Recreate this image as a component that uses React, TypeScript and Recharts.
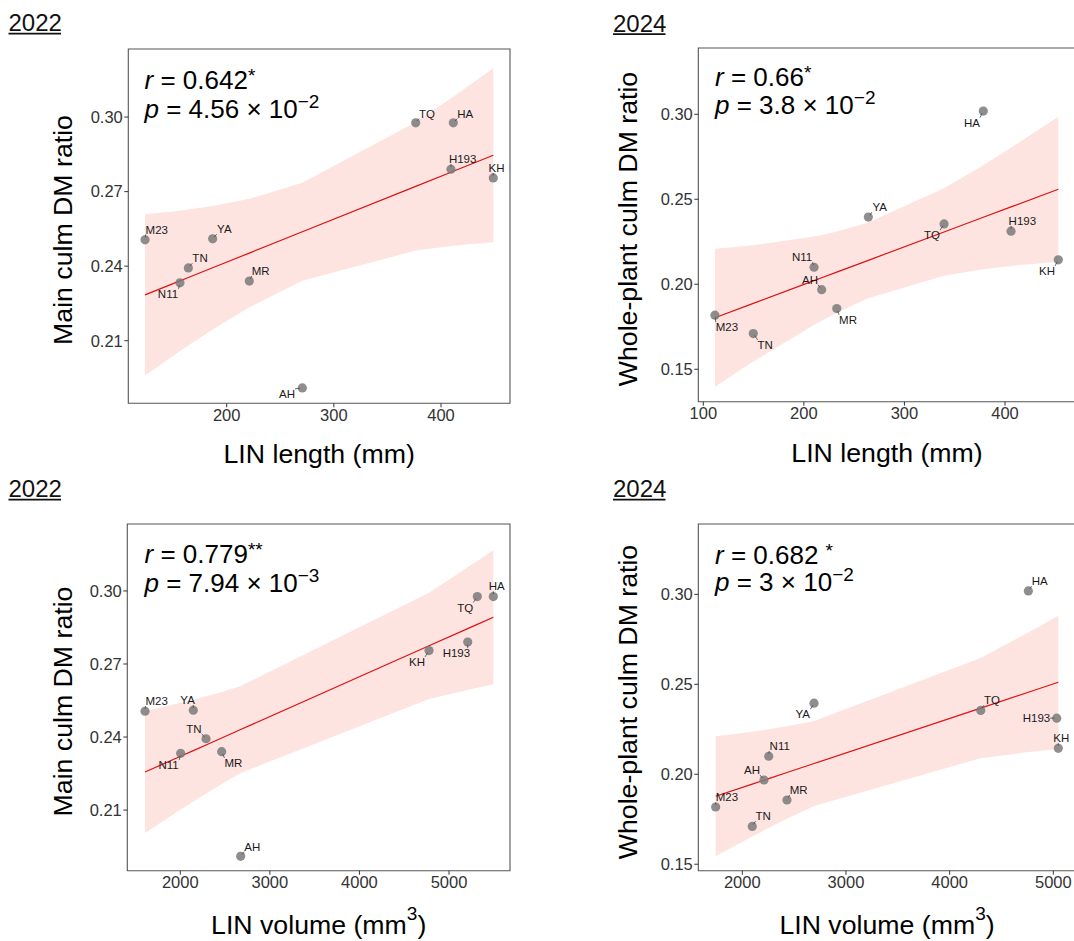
import React from "react";
import { ComposedChart, XAxis, YAxis, Area, Line, Scatter, ReferenceArea } from "recharts";

const FONT = '"Liberation Sans", Arial, Helvetica, sans-serif';

// ---------------- data ----------------
const cultivars = ["M23", "YA", "TN", "N11", "MR", "AH", "TQ", "HA", "H193", "KH"];

const linLength2022 = [123.8, 186.9, 164.2, 156.4, 221.1, 270.6, 376.4, 411.5, 409.3, 448.8];
const mainCulmRatio2022 = [0.2506, 0.251, 0.2393, 0.2333, 0.234, 0.191, 0.2977, 0.2977, 0.279, 0.2755];
const linVolume2022 = [1606, 2145, 2287, 2004, 2462, 2674, 5316, 5495, 5209, 4777];

const linLength2024 = [111.6, 264.1, 149.7, 210.1, 232.7, 217.7, 339.4, 378.4, 406.0, 453.0];
const wholePlantRatio2024 = [0.1818, 0.2395, 0.171, 0.21, 0.1857, 0.1968, 0.2355, 0.3019, 0.2312, 0.2144];
const linVolume2024 = [1743, 2692, 2096, 2255, 2431, 2209, 4300, 4759, 5033, 5048];

const xTicksLength2022 = [200, 300, 400];
const xTicksLength2024 = [100, 200, 300, 400];
const xTicksVolume = [2000, 3000, 4000, 5000];
const yTicksMain = [0.21, 0.24, 0.27, 0.3];
const yTicksWhole = [0.15, 0.2, 0.25, 0.3];

const yearLabels = ["2022", "2024", "2022", "2024"];
const rValues = ["0.642", "0.66", "0.779", "0.682"];
const rStars = ["*", "*", "**", "*"];
const pMantissas = ["4.56", "3.8", "7.94", "3"];
const pExponents = ["\u22122", "\u22122", "\u22123", "\u22122"];
const xTitleMain = ["LIN length (mm)", "LIN length (mm)", "LIN volume (mm", "LIN volume (mm"];
const xTitleSup = ["", "", "3", "3"];
const xTitleTail = ["", "", ")", ")"];
const yTitles = ["Main culm DM ratio", "Whole-plant culm DM ratio", "Main culm DM ratio", "Whole-plant culm DM ratio"];

// t quantile (0.975, df = 8) for the 95% confidence band of the fitted line
const T975_DF8 = 2.306;

function fitRows(xs: number[], ys: number[]) {
  const n = xs.length;
  const xbar = xs.reduce((a, b) => a + b, 0) / n;
  const ybar = ys.reduce((a, b) => a + b, 0) / n;
  let sxx = 0;
  let sxy = 0;
  xs.forEach((x, i) => {
    sxx += (x - xbar) * (x - xbar);
    sxy += (x - xbar) * (ys[i] - ybar);
  });
  const b = sxy / sxx;
  const a = ybar - b * xbar;
  let sse = 0;
  xs.forEach((x, i) => {
    const e = ys[i] - (a + b * x);
    sse += e * e;
  });
  const s = Math.sqrt(sse / (n - 2));
  return xs
    .map((x, i) => {
      const fit = a + b * x;
      const h = T975_DF8 * s * Math.sqrt(1 / n + ((x - xbar) * (x - xbar)) / sxx);
      return { x, y: ys[i], name: cultivars[i], fit, band: [fit - h, fit + h] };
    })
    .sort((p, q) => p.x - q.x);
}

// ---------------- layout ----------------
type Layout = {
  left: number; top: number; w: number; h: number;
  pl: number; pt: number; pr: number; pb: number;
  xDom: [number, number]; yDom: [number, number];
  year: [number, number];
  stats: [number, number, number, number];
  xTitle: [number, number];
  yTitle: [number, number];
  labels: Record<string, [number, number]>;
};

const LAYOUT: Layout[] = [
  {
    left: 0, top: 0, w: 540, h: 470,
    pl: 128.3, pt: 49, pr: 510, pb: 403.3,
    xDom: [108.17, 464.4], yDom: [0.1848, 0.3274],
    year: [8.5, 31], stats: [144.5, 89.3, 117.7, 0], xTitle: [319.2, 462.5], yTitle: [71.7, 230],
    labels: {
      M23: [11.7, -10.3], YA: [11.7, -9.7], TN: [11.7, -9.7], N11: [-12, 11], MR: [11.3, -10],
      AH: [-15.3, 6], TQ: [11.3, -9.3], HA: [12, -9.3], H193: [11.7, -10.3], KH: [3.3, -10],
    },
  },
  {
    left: 540, top: 0, w: 540, h: 470,
    pl: 698.3, pt: 48, pr: 1075.4, pb: 401.7,
    xDom: [95.03, 470], yDom: [0.1309, 0.339],
    year: [613, 31.5], stats: [715, 86, 114, 0], xTitle: [887, 461.5], yTitle: [636.5, 229],
    labels: {
      HA: [-11.3, 11.7], YA: [11.3, -10], TQ: [-12, 11.3], H193: [11.3, -10.3], KH: [-11.3, 11.3],
      N11: [-12, -10], AH: [-11.7, -10], MR: [11.3, 11.3], M23: [12, 12], TN: [12, 11.3],
    },
  },
  {
    left: 0, top: 470, w: 540, h: 470,
    pl: 127.3, pt: 524, pr: 510, pb: 870.7,
    xDom: [1408.3, 5681], yDom: [0.1851, 0.3275],
    year: [8.5, 497], stats: [144.5, 563.2, 592, 0], xTitle: [318.7, 934], yTitle: [71.7, 701.5],
    labels: {
      M23: [11.7, -10.3], YA: [-5.7, -10.3], TN: [-12, -10], N11: [-12, 11.7], MR: [11.7, 11.3],
      AH: [11.7, -9.7], KH: [-12, 11.3], H193: [-11.3, 11], TQ: [-12, 11], HA: [3.3, -10.3],
    },
  },
  {
    left: 540, top: 470, w: 540, h: 470,
    pl: 698.3, pt: 524, pr: 1075.4, pb: 870.7,
    xDom: [1575.6, 5213], yDom: [0.1464, 0.3391],
    year: [613, 497], stats: [715, 563.5, 591, 7], xTitle: [887, 934], yTitle: [636.5, 702],
    labels: {
      HA: [11.3, -9.7], YA: [-11.3, 11], TQ: [11.3, -10.3], H193: [-20.3, 0], KH: [3, -10.3],
      N11: [11, -10.3], AH: [-12, -10], MR: [11.7, -10], M23: [11.3, -9.7], TN: [11, -10.3],
    },
  },
];

const PANEL_DATA = [
  { rows: fitRows(linLength2022, mainCulmRatio2022), xTicks: xTicksLength2022, yTicks: yTicksMain },
  { rows: fitRows(linLength2024, wholePlantRatio2024), xTicks: xTicksLength2024, yTicks: yTicksWhole },
  { rows: fitRows(linVolume2022, mainCulmRatio2022), xTicks: xTicksVolume, yTicks: yTicksMain },
  { rows: fitRows(linVolume2024, wholePlantRatio2024), xTicks: xTicksVolume, yTicks: yTicksWhole },
];

// ---------------- label (repel-like) shape ----------------
const CHAR_W: Record<string, number> = {
  M: 0.833, Y: 0.667, A: 0.667, T: 0.611, N: 0.722, R: 0.722, H: 0.722, Q: 0.778, K: 0.667,
};
const textW = (s: string, fs: number) =>
  s.split("").reduce((a, c) => a + (CHAR_W[c] ?? 0.556), 0) * fs;

const LABEL_FS = 11.5;

const makeShape = (labels: Record<string, [number, number]>) => (props: any) => {
  const { cx, cy, payload } = props;
  if (cx == null || cy == null) return <g />;
  const name: string = payload?.name ?? "";
  const off = labels[name] ?? [10, -10];
  const lx = cx + off[0];
  const ly = cy + off[1];
  const w = textW(name, LABEL_FS) - 1;
  const bx = Math.min(Math.max(cx, lx - w / 2 - 0.5), lx + w / 2 + 0.5);
  const by = Math.min(Math.max(cy, ly - 5), ly + 5);
  const vx = bx - cx;
  const vy = by - cy;
  const d = Math.hypot(vx, vy);
  const sx = d > 0 ? cx + (vx / d) * 2.5 : cx;
  const sy = d > 0 ? cy + (vy / d) * 2.5 : cy;
  return (
    <g>
      <circle cx={cx} cy={cy} r={4.6} fill="#7a7a7a" fillOpacity={0.85} />
      {d > 3 && <line x1={sx} y1={sy} x2={bx} y2={by} stroke="#444" strokeWidth={0.8} />}
      <text x={lx} y={ly + 4.1} textAnchor="middle" fontSize={LABEL_FS} fontFamily={FONT} fill="#1a1a1a">
        {name}
      </text>
    </g>
  );
};

// ---------------- panel ----------------
function Panel({ idx }: { idx: number }) {
  const L = LAYOUT[idx];
  const D = PANEL_DATA[idx];
  const tickStyle = { fill: "#333", fontSize: 16.5, fontFamily: FONT };
  return (
    <div style={{ position: "absolute", left: L.left, top: L.top, width: L.w, height: L.h }}>
      <ComposedChart
        width={L.w}
        height={L.h}
        data={D.rows}
        margin={{ top: L.pt - L.top, right: L.left + L.w - L.pr, bottom: 0, left: 0 }}
      >
        <XAxis
          type="number"
          dataKey="x"
          domain={L.xDom}
          ticks={D.xTicks}
          allowDataOverflow
          interval={0}
          height={L.top + L.h - L.pb}
          tickSize={4}
          tickMargin={2}
          axisLine={false}
          tickLine={{ stroke: "#333", strokeWidth: 1 }}
          tick={tickStyle}
        />
        <YAxis
          type="number"
          domain={L.yDom}
          ticks={D.yTicks}
          allowDataOverflow
          interval={0}
          width={L.pl - L.left}
          tickSize={4}
          tickMargin={1.5}
          axisLine={false}
          tickLine={{ stroke: "#333", strokeWidth: 1 }}
          tick={tickStyle}
          tickFormatter={(v: number) => v.toFixed(2)}
        />
        <Area
          type="linear"
          dataKey="band"
          stroke="none"
          fill="#fde4e1"
          fillOpacity={1}
          dot={false}
          activeDot={false}
          isAnimationActive={false}
        />
        <Line
          type="linear"
          dataKey="fit"
          stroke="#e01010"
          strokeWidth={1.2}
          dot={false}
          activeDot={false}
          isAnimationActive={false}
        />
        <ReferenceArea
          x1={L.xDom[0]}
          x2={L.xDom[1]}
          y1={L.yDom[0]}
          y2={L.yDom[1]}
          fill="none"
          stroke="#555"
          strokeWidth={1.1}
          ifOverflow="visible"
        />
        <Scatter dataKey="y" shape={makeShape(L.labels)} isAnimationActive={false} />
      </ComposedChart>
    </div>
  );
}

function Overlay() {
  return (
    <svg
      width={1074}
      height={941}
      style={{ position: "absolute", left: 0, top: 0, pointerEvents: "none" }}
      fontFamily={FONT}
    >
      {LAYOUT.map((L, i) => (
        <g key={i}>
          <text x={L.year[0]} y={L.year[1]} fontSize={24} fill="#111">
            {yearLabels[i]}
          </text>
          <line
            x1={L.year[0]}
            x2={L.year[0] + 52.5}
            y1={L.year[1] + 2.6}
            y2={L.year[1] + 2.6}
            stroke="#111"
            strokeWidth={1.6}
          />
          <text x={L.stats[0]} y={L.stats[1]} fontSize={26} fill="#000">
            <tspan fontStyle="italic">r</tspan>
            <tspan>{" = " + rValues[i]}</tspan>
            <tspan dx={L.stats[3]} dy={-7} fontSize={19}>
              {rStars[i]}
            </tspan>
          </text>
          <text x={L.stats[0]} y={L.stats[2]} fontSize={26} fill="#000">
            <tspan fontStyle="italic">p</tspan>
            <tspan>{" = " + pMantissas[i] + " \u00d7 10"}</tspan>
            <tspan dy={-10} fontSize={19}>
              {pExponents[i]}
            </tspan>
          </text>
          <text x={L.xTitle[0]} y={L.xTitle[1]} fontSize={26.7} textAnchor="middle" fill="#000">
            <tspan>{xTitleMain[i]}</tspan>
            {xTitleSup[i] && (
              <tspan dy={-14} fontSize={19}>
                {xTitleSup[i]}
              </tspan>
            )}
            {xTitleTail[i] && <tspan dy={14}>{xTitleTail[i]}</tspan>}
          </text>
          <text
            x={L.yTitle[0]}
            y={L.yTitle[1]}
            fontSize={26.7}
            textAnchor="middle"
            fill="#000"
            transform={`rotate(-90 ${L.yTitle[0]} ${L.yTitle[1]})`}
          >
            {yTitles[i]}
          </text>
        </g>
      ))}
    </svg>
  );
}

export default function App() {
  return (
    <div
      style={{
        position: "absolute",
        left: 0,
        top: 0,
        width: 1074,
        height: 941,
        overflow: "hidden",
        background: "#fff",
        fontFamily: FONT,
      }}
    >
      {[0, 1, 2, 3].map((i) => (
        <Panel key={i} idx={i} />
      ))}
      <Overlay />
    </div>
  );
}
